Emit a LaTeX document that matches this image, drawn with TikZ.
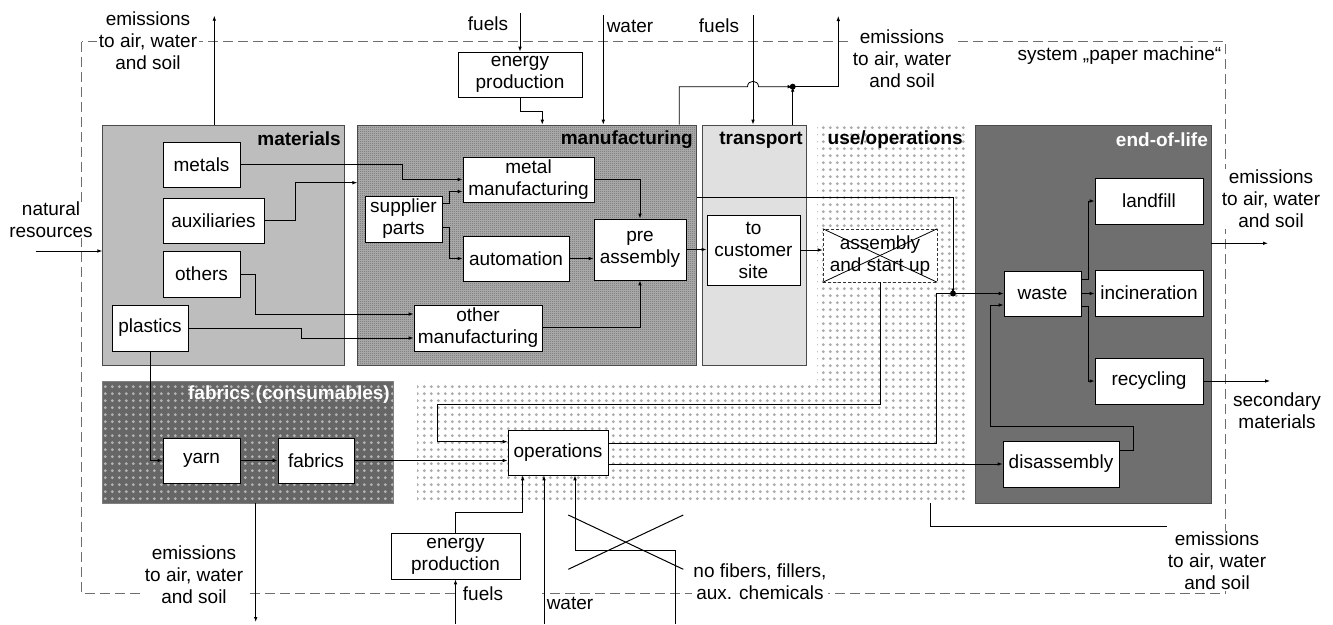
\documentclass[tikz,border=0pt]{standalone}
\usepackage{fontspec}
\setmainfont{Liberation Sans}
\usetikzlibrary{arrows.meta,calc,patterns,patterns.meta}
\definecolor{matgray}{HTML}{BDBDBD}
\definecolor{mfgbg}{HTML}{B4B4B4}
\definecolor{mfgdot}{HTML}{505050}
\definecolor{trgray}{HTML}{E0E0E0}
\definecolor{eolgray}{HTML}{6F6F6F}
\definecolor{fabgray}{HTML}{666666}
\definecolor{fabdot}{HTML}{B4B4B4}
\definecolor{usedot}{HTML}{ABABAB}
\definecolor{dashgray}{HTML}{6E6E6E}
\definecolor{edgegray}{HTML}{4A4A4A}
\tikzdeclarepattern{name=checker, type=uncolored,
  bounding box={(0pt,0pt) and (2pt,2pt)}, tile size={(2pt,2pt)},
  code={\fill (0pt,0pt) rectangle (1pt,1pt); \fill (1pt,1pt) rectangle (2pt,2pt);}}
\tikzdeclarepattern{name=bigdots, type=uncolored,
  bounding box={(0pt,0pt) and (6.8pt,6.8pt)}, tile size={(6.8pt,6.8pt)},
  code={\fill (3.4pt,3.4pt) circle (1.6pt);}}
\begin{document}
\begin{tikzpicture}[x=1pt,y=-1pt, >={Latex[length=5pt,width=3.6pt]},
  every node/.style={font=\fontsize{19}{22}\selectfont},
  box/.style={draw=black, fill=white, line width=0.7pt, inner sep=0pt, align=center},
  blk/.style={inner sep=0pt, line width=0.7pt, draw=edgegray},
  conn/.style={line width=0.8pt},
  lbl/.style={font=\fontsize{19}{22}\selectfont\bfseries, inner sep=1pt, anchor=east},
  txt/.style={align=center, inner sep=1.5pt}]
\useasboundingbox (0,0) rectangle (1333,624);
\fill[white] (0,0) rectangle (1333,624);
% system boundary
\draw[dashgray, line width=0.9pt, dash pattern=on 10pt off 5pt] (81.7,41.7) rectangle (1225.5,593.5);
\fill[white] (458,588) rectangle (542,599);
% blocks
\node[blk, fill=matgray, minimum width=241.3pt, minimum height=240pt] (materials) at (223.35,245) {};
\node[blk, fill=mfgbg, postaction={pattern=checker, pattern color=mfgdot}, minimum width=339pt, minimum height=240pt] (manufacturing) at (527.2,245) {};
\node[blk, fill=trgray, minimum width=103.3pt, minimum height=240pt] (transport) at (754.35,245) {};
\fill[pattern=bigdots, pattern color=usedot] (817,125) -- (965,125) -- (965,503) -- (417,503) -- (417,381) -- (817,381) -- cycle;
\node[blk, fill=eolgray, minimum width=235.5pt, minimum height=378pt] (eol) at (1093.25,314) {};
\node[blk, draw=gray, fill=fabgray, postaction={pattern=bigdots, pattern color=fabdot}, minimum width=290.3pt, minimum height=122pt] (fabrics) at (247.85,442) {};
% block labels
\node[lbl] at (342,139) {materials};
\node[lbl] at (694,140) {manufacturing};
\node[lbl] at (804,140) {transport};
\node[lbl] at (964,140) {use/operations};
\node[lbl, text=white] at (1209,140) {end-of-life};
\node[lbl, text=white] at (391,395) {fabrics (consumables)};
% boxes
\node[box, minimum width=77pt, minimum height=45pt] (metals) at (201.5,164.5) {metals};
\node[box, minimum width=101pt, minimum height=45pt] (aux) at (213.5,220.5) {auxiliaries};
\node[box, minimum width=77pt, minimum height=46pt] (others) at (201.5,274) {others};
\node[box, minimum width=76pt, minimum height=46pt] (plastics) at (150,328) {plastics};
\node[box, minimum width=77pt, minimum height=46pt] (supplier) at (403.5,219) {supplier\\parts};
\node[box, minimum width=131pt, minimum height=45pt] (metalman) at (528.5,179.5) {metal\\manufacturing};
\node[box, minimum width=106pt, minimum height=45pt] (automation) at (516,258.5) {automation};
\node[box, minimum width=92pt, minimum height=61pt] (preassembly) at (640,249.5) {pre\\assembly};
\node[box, minimum width=128pt, minimum height=46pt] (otherman) at (478,328) {other\\manufacturing};
\node[box, minimum width=93pt, minimum height=70pt] (customer) at (753.5,250) {to\\customer\\site};
\node[box, draw=black!80, densely dashed, line width=0.6pt, minimum width=114pt, minimum height=53pt] (asu) at (880,255.5) {assembly\\and start up};
\draw[line width=0.8pt] (asu.north west) -- (asu.south east);
\draw[line width=0.8pt] (asu.south west) -- (asu.north east);
\node[box, minimum width=77pt, minimum height=45pt] (waste) at (1042.5,293.5) {waste};
\node[box, minimum width=108pt, minimum height=46pt] (landfill) at (1149,201) {landfill};
\node[box, minimum width=108pt, minimum height=46pt] (incineration) at (1149,293) {incineration};
\node[box, minimum width=108pt, minimum height=46pt] (recycling) at (1149,381) {recycling};
\node[box, minimum width=116pt, minimum height=46pt] (disassembly) at (1061,464) {disassembly};
\node[box, minimum width=77pt, minimum height=45pt] (yarn) at (201.5,460.5) {yarn};
\node[box, minimum width=76pt, minimum height=45pt] (fabricsbox) at (316,460.5) {fabrics};
\node[box, minimum width=100pt, minimum height=45pt] (operations) at (558,452.5) {operations};
\node[box, minimum width=129pt, minimum height=46pt] (EPb) at (455.5,556) {energy\\production};
\node[box, minimum width=124pt, minimum height=45pt] (EPt) at (520,74.5) {energy\\production};
% texts
\node[txt] (tfuels1) at (488,24) {fuels};
\node[txt] (twater1) at (630,26) {water};
\node[txt] (tfuels2) at (719,26) {fuels};
\node[txt, fill=white] (tem1) at (148,41) {emissions\\to air, water\\and soil};
\node[txt, fill=white] (tem2) at (902,59) {emissions\\to air, water\\and soil};
\node[txt, anchor=east] (tsys) at (1223,56) {system „paper machine“};
\node[txt, fill=white] (tem3) at (1271,199) {emissions\\to air, water\\and soil};
\node[txt] (tsec) at (1277,411) {secondary\\materials};
\node[txt, fill=white] (tem4) at (1217,561) {emissions\\to air, water\\and soil};
\node[txt, fill=white] (tem5) at (194,575) {emissions\\to air, water\\and soil};
\node[txt] (tfuels3) at (483,594) {fuels};
\node[txt] (twater2) at (570,603) {water};
\node[txt, fill=white, inner sep=1pt] (tnof) at (760,582) {no fibers, fillers,\\aux. chemicals};
\node[txt, fill=white, inner sep=0.5pt] (tnat) at (51,220) {natural\\resources};
% connectors: materials
\coordinate (nr) at (35.7,251);
\draw[conn,->] (nr) -- (nr -| materials.west);
\coordinate (em1) at (214.3,15.7);
\draw[conn,->] (em1 |- materials.north) -- (em1);
\draw[conn,->] (metals.east) -- (402.7,164.5) |- (metalman.west);
\coordinate (auxin) at (295,182.7);
\draw[conn,->] (aux.east) -| (auxin) -- (auxin -| manufacturing.west);
\draw[conn,->] ($(supplier.east)+(0,-16)$) -- (449,203) |- ($(metalman.west)+(0,12)$);
\draw[conn,->] ($(supplier.east)+(0,8)$) -- (449,227) |- (automation.west);
\draw[conn,->] (automation.east) -- (automation.east -| preassembly.west);
\draw[conn,->] (metalman.east) -| (preassembly.north);
\draw[conn,->] ($(otherman.east)+(0,-1)$) -| (preassembly.south);
\draw[conn,->] (others.east) -- (255,274) |- ($(otherman.west)+(0,-14)$);
\draw[conn,->] (plastics.east) -- (301.7,328) |- ($(otherman.west)+(0,10)$);
\draw[conn,->] (plastics.south) |- (yarn.west);
\draw[conn,->] (yarn) -- (fabricsbox);
\draw[conn,->] (fabricsbox.east) -- (fabricsbox.east -| operations.west);
\coordinate (em2) at (255.7,622);
\draw[conn,->] (em2 |- fabrics.south) -- (em2);
\draw[conn,->] (preassembly.east) -- (preassembly.east -| customer.west);
\draw[conn,->] (customer.east) -- (customer.east -| asu.west);
% bottom inputs
\coordinate (f2) at (455.5,624);
\draw[conn,->] (f2) -- (f2 |- EPb.south);
\coordinate (opin1) at (522.7,512.7);
\draw[conn,->] (EPb.north) |- (opin1) -- (opin1 |- operations.south);
\coordinate (w2) at (544,624);
\draw[conn,->] (w2) -- (w2 |- operations.south);
\coordinate (nf) at (675,624);
\coordinate (nfb) at (575,550.7);
\draw[conn,->] (nf) |- (nfb) -- (nfb |- operations.south);
\draw[line width=1pt] (568.3,515) -- (683.3,569.3);
\draw[line width=1pt] (568.3,569.3) -- (683.3,515);
% operations outputs
\draw[conn,->] (operations.east |- disassembly.west) -- (disassembly.west);
\coordinate (opw) at (936,443);
\draw[conn,->] (operations.east |- opw) -- (opw) |- (waste.west);
\coordinate (jn) at (953,293.5);
\coordinate (mw) at (953,197);
\draw[conn,->] (mw -| manufacturing.east) -- (mw) -- (jn);
\fill (jn) circle (3pt);
\coordinate (a1) at (880,404.3);
\coordinate (a2) at (437.3,441.7);
\draw[conn,->] (asu.south) -- (asu.south |- a1) -| (a2) -- (a2 -| operations.west);
% end of life
\coordinate (d1) at (1133.3,450.7);
\coordinate (d2) at (990,426);
\coordinate (d3) at (990,305);
\draw[conn,->] (disassembly.east |- d1) -- (d1) |- (d2) -- (d3) -- (d3 -| waste.west);
\coordinate (wl) at (1088.3,279.5);
\draw[conn,->] (waste.east |- wl) -- (wl) |- (landfill.west);
\draw[conn,->] (waste.east) -- (waste.east -| incineration.west);
\coordinate (wr) at (1088.3,306.5);
\draw[conn,->] (waste.east |- wr) -- (wr) |- (recycling.west);
\coordinate (em3) at (1268,243.3);
\draw[conn,->] (em3 -| eol.east) -- (em3);
\coordinate (sm) at (1270,381);
\draw[conn,->] (recycling.east) -- (sm);
\coordinate (ub) at (930,503);
\coordinate (ub2) at (1167,526.7);
\draw[conn] (ub) |- (ub2);
% top inputs
\coordinate (f1) at (520,13);
\draw[conn,->] (f1) -- (f1 |- EPt.north);
\coordinate (e1) at (542.3,111.7);
\draw[conn,->] (EPt.south) |- (e1) -- (e1 |- manufacturing.north);
\coordinate (w1) at (603.3,15);
\draw[conn,->] (w1) -- (w1 |- manufacturing.north);
\coordinate (f3) at (753,15);
\draw[conn,->] (f3) -- (f3 |- transport.north);
\coordinate (m1) at (679.3,86.7);
\coordinate (jt) at (792.7,86.7);
\coordinate (em4) at (838.3,16);
\draw[conn,->] (m1 |- manufacturing.north) -- (m1) -- (747.5,86.7) .. controls (747.5,79.5) and (758.5,79.5) .. (758.5,86.7) -- (jt);
\draw[conn,->] (jt) -| (em4);
\draw[conn,->] (jt |- transport.north) -- (jt);
\fill (jt) circle (3pt);
\end{tikzpicture}
\end{document}
